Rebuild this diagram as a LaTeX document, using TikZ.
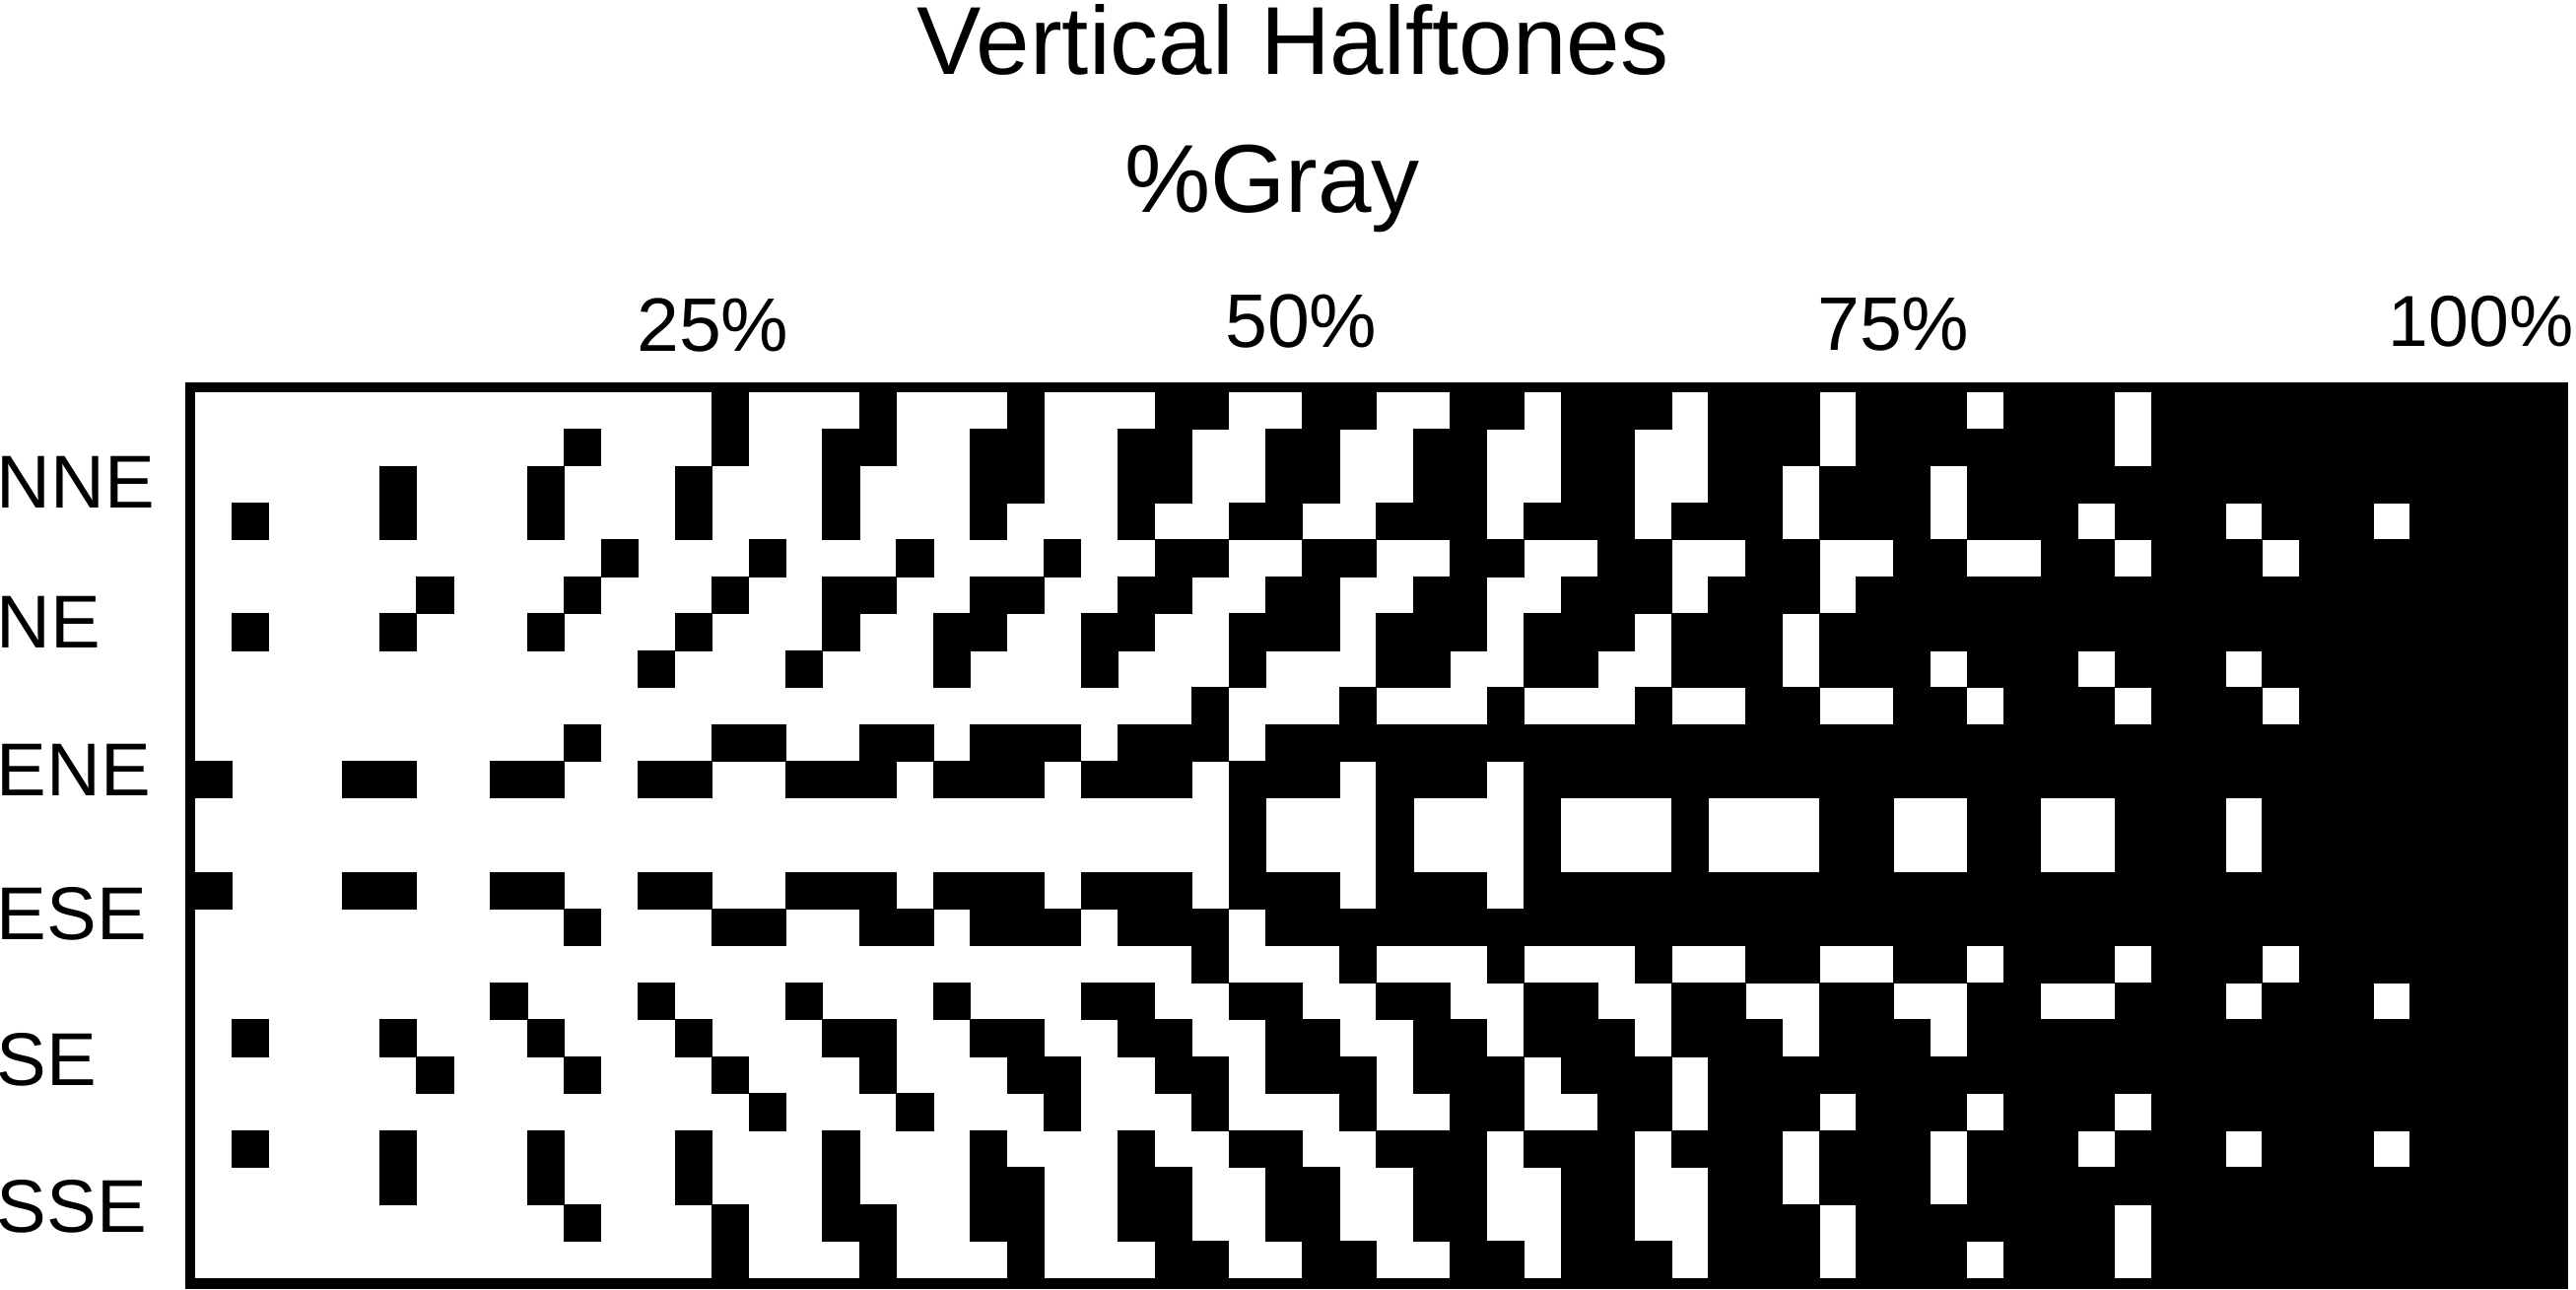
\documentclass[tikz,border=0pt]{standalone}
\usepackage{fontspec}
\setmainfont{Liberation Sans}
\newcommand\htrow[2]{%
  \foreach \a/\b in {#2} {%
    \fill[cellfill] (\a-0.01,#1-0.01) rectangle (\b+1.01,#1+1.01);%
  }%
}
\begin{document}
\begin{tikzpicture}[x=0.3pt,y=-0.3pt]
\tikzset{
  titletext/.style={inner sep=0pt, anchor=base, font=\fontsize{29.4}{32}\selectfont},
  pcttext/.style={inner sep=0pt, anchor=base east, font=\fontsize{23.1}{25}\selectfont},
  rowtext/.style={inner sep=0pt, anchor=base west, font=\fontsize{22.8}{25}\selectfont},
  cellfill/.style={fill=black},
  frame/.style={draw=black, line width=3.15pt}
}
\useasboundingbox (0,0) rectangle (2614,1308);
% titles
\node[titletext] (title) at (1312,75) {Vertical Halftones};
\node[titletext] (gray) at (1291,215) {\%Gray};
% percent labels
\node[pcttext] (p25) at (801,356) {25\%};
\node[pcttext] (p50) at (1398,352) {50\%};
\node[pcttext] (p75) at (1999,355) {75\%};
\node[pcttext, font=\fontsize{22}{24}\selectfont] (p100) at (2612,351) {100\%};
% row labels
\node[rowtext] (nne) at (-4,515) {NNE};
\node[rowtext] (ne) at (-4,657) {NE};
\node[rowtext] (ene) at (-4,807) {ENE};
\node[rowtext] (ese) at (-4,953) {ESE};
\node[rowtext] (se) at (-4,1101) {SE};
\node[rowtext] (sse) at (-4,1250) {SSE};
% halftone cells
\begin{scope}[shift={(198,398)}, x=11.238pt, y=-11.238pt]
\htrow{0}{14/14,18/18,22/22,26/27,30/31,34/35,37/39,41/43,45/47,49/51,53/63}
\htrow{1}{10/10,14/14,17/18,21/22,25/26,29/30,33/34,37/38,41/43,45/51,53/63}
\htrow{2}{5/5,9/9,13/13,17/17,21/22,25/26,29/30,33/34,37/38,41/42,44/46,48/63}
\htrow{3}{1/1,5/5,9/9,13/13,17/17,21/21,25/25,28/29,32/34,36/38,40/42,44/46,48/50,52/54,56/58,60/63}
\htrow{4}{11/11,15/15,19/19,23/23,26/27,30/31,34/35,38/39,42/43,46/47,50/51,53/55,57/63}
\htrow{5}{6/6,10/10,14/14,17/18,21/22,25/26,29/30,33/34,37/39,41/43,45/63}
\htrow{6}{1/1,5/5,9/9,13/13,17/17,20/21,24/25,28/30,32/34,36/38,40/42,44/63}
\htrow{7}{12/12,16/16,20/20,24/24,28/28,32/33,36/37,40/42,44/46,48/50,52/54,56/63}
\htrow{8}{27/27,31/31,35/35,39/39,42/43,46/47,49/51,53/55,57/63}
\htrow{9}{10/10,14/15,18/19,21/23,25/27,29/63}
\htrow{10}{0/0,4/5,8/9,12/13,16/18,20/22,24/26,28/30,32/34,36/63}
\htrow{11}{28/28,32/32,36/36,40/40,44/45,48/49,52/54,56/63}
\htrow{12}{28/28,32/32,36/36,40/40,44/45,48/49,52/54,56/63}
\htrow{13}{0/0,4/5,8/9,12/13,16/18,20/22,24/26,28/30,32/34,36/63}
\htrow{14}{10/10,14/15,18/19,21/23,25/27,29/63}
\htrow{15}{27/27,31/31,35/35,39/39,42/43,46/47,49/51,53/55,57/63}
\htrow{16}{8/8,12/12,16/16,20/20,24/25,28/29,32/33,36/37,40/41,44/45,48/49,52/54,56/58,60/63}
\htrow{17}{1/1,5/5,9/9,13/13,17/18,21/22,25/26,29/30,33/34,36/38,40/42,44/46,48/63}
\htrow{18}{6/6,10/10,14/14,18/18,22/23,26/27,29/31,33/35,37/39,41/63}
\htrow{19}{15/15,19/19,23/23,27/27,31/31,34/35,38/39,41/43,45/47,49/51,53/63}
\htrow{20}{1/1,5/5,9/9,13/13,17/17,21/21,25/25,28/29,32/34,36/38,40/42,44/46,48/50,52/54,56/58,60/63}
\htrow{21}{5/5,9/9,13/13,17/17,21/22,25/26,29/30,33/34,37/38,41/42,44/46,48/63}
\htrow{22}{10/10,14/14,17/18,21/22,25/26,29/30,33/34,37/38,41/43,45/51,53/63}
\htrow{23}{14/14,18/18,22/22,26/27,30/31,34/35,37/39,41/43,45/47,49/51,53/63}
\end{scope}
% frame
\draw[frame] (192.75,392.75) rectangle (2600.75,1302.25);
\end{tikzpicture}
\end{document}
